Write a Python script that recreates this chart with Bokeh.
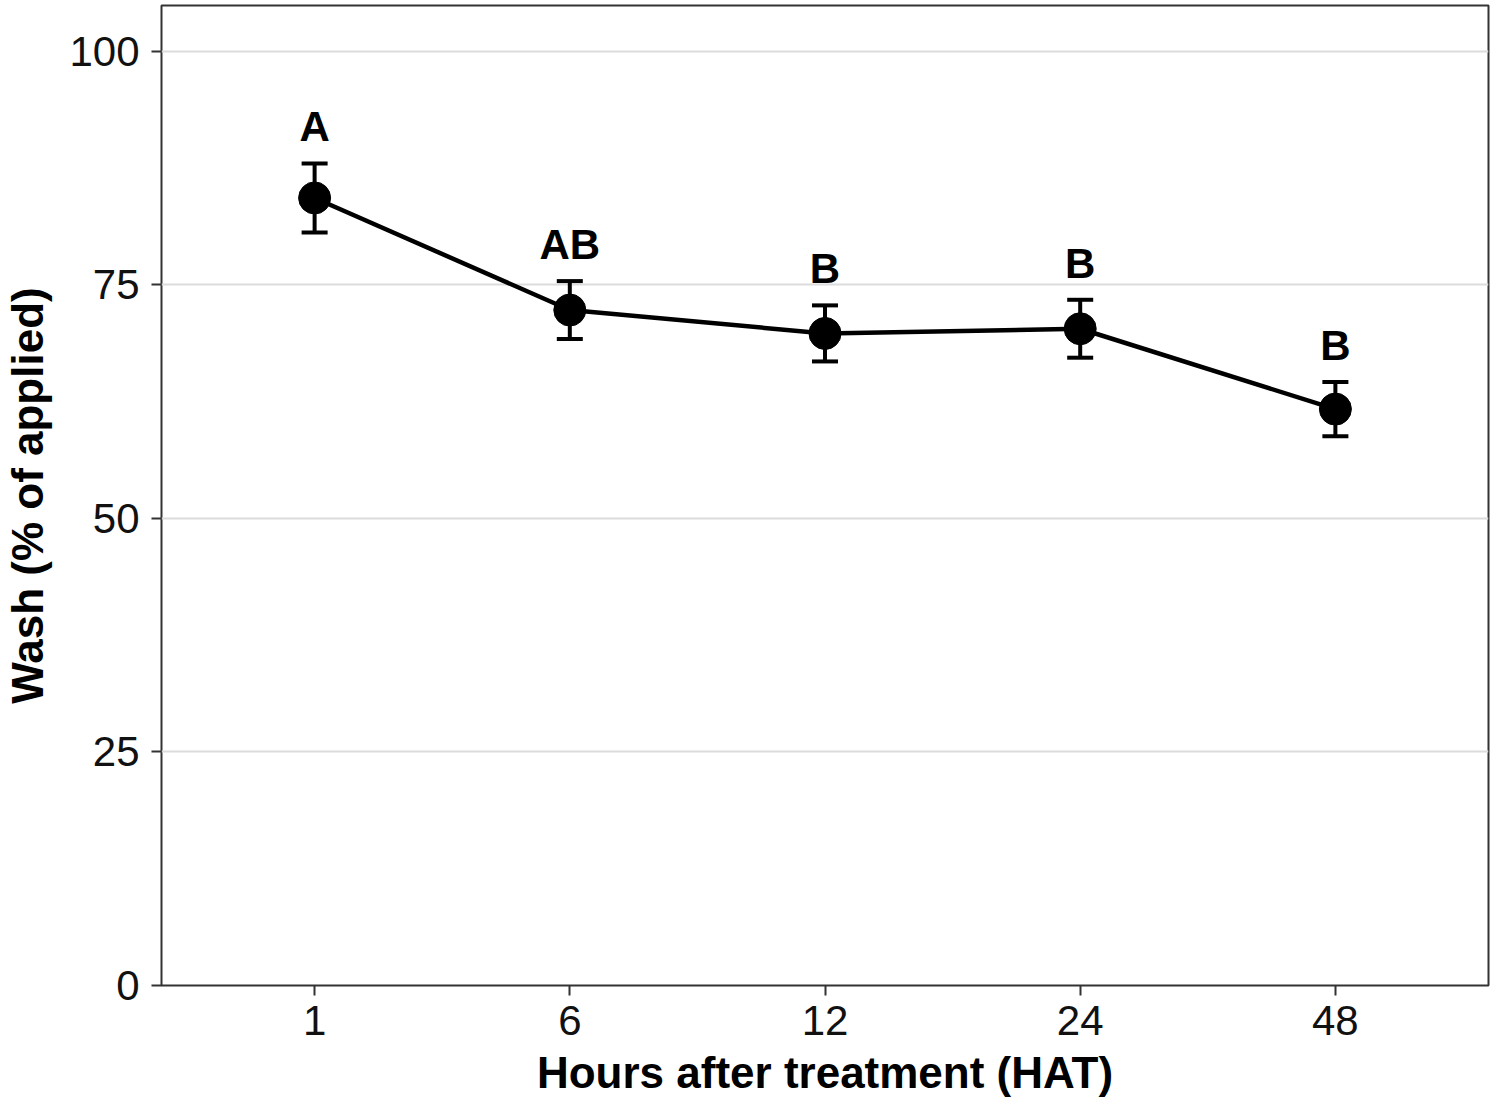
from bokeh.plotting import figure
from bokeh.models import ColumnDataSource, Range1d, FixedTicker, Whisker, LabelSet
from bokeh.core.properties import value
from bokeh.embed import file_html
from bokeh.resources import INLINE

# ---- data ----
hours = ["1", "6", "12", "24", "48"]
wash_mean = [84.3, 72.3, 69.8, 70.3, 61.7]
wash_se = [3.7, 3.1, 3.0, 3.1, 2.9]
letters = ["A", "AB", "B", "B", "B"]
y_ticks = [0, 25, 50, 75, 100]

xpos = list(range(1, len(hours) + 1))
lower = [m - s for m, s in zip(wash_mean, wash_se)]
upper = [m + s for m, s in zip(wash_mean, wash_se)]
label_y = [u + 3.9 for u in upper]

src = ColumnDataSource(dict(x=xpos, y=wash_mean, lower=lower, upper=upper,
                            ly=label_y, lab=letters))

FONT = "Liberation Sans"

p = figure(width=1501, height=1109, output_backend="svg", toolbar_location=None,
           x_range=Range1d(0.4, 5.6), y_range=Range1d(0, 104.9),
           min_border_left=160, min_border_right=13, min_border_top=5,
           min_border_bottom=124)

p.background_fill_color = "white"
p.border_fill_color = "white"
p.outline_line_color = "#333333"
p.outline_line_width = 2

# grid
p.xgrid.grid_line_color = None
p.ygrid.grid_line_color = "#dcdcdc"
p.ygrid.grid_line_width = 2
p.yaxis.ticker = FixedTicker(ticks=y_ticks)
p.xaxis.ticker = FixedTicker(ticks=xpos)
p.xaxis.major_label_overrides = {i: h for i, h in zip(xpos, hours)}

for ax in (p.xaxis[0], p.yaxis[0]):
    ax.axis_line_color = None
    ax.major_tick_in = 0
    ax.major_tick_out = 10
    ax.major_tick_line_width = 2
    ax.major_tick_line_color = "#333333"
    ax.minor_tick_line_color = None
    ax.major_label_text_font = FONT
    ax.major_label_text_font_size = "42px"
    ax.major_label_text_color = "#111111"
    ax.axis_label_text_font = FONT
    ax.axis_label_text_font_size = "44px"
    ax.axis_label_text_font_style = "bold"
    ax.axis_label_text_color = "black"

p.xaxis.axis_label = "Hours after treatment (HAT)"
p.yaxis.axis_label = "Wash (% of applied)"
p.yaxis.major_label_standoff = 12
p.yaxis.axis_label_standoff = 14
p.xaxis.major_label_standoff = 10
p.xaxis.axis_label_standoff = 10

# line
p.line("x", "y", source=src, line_color="black", line_width=4.5)

# error bars
w = Whisker(source=src, base="x", lower="lower", upper="upper", dimension="height",
            line_color="black", line_width=4)
w.upper_head.size = 26
w.lower_head.size = 26
w.upper_head.line_width = 4
w.lower_head.line_width = 4
w.upper_head.line_color = "black"
w.lower_head.line_color = "black"
p.add_layout(w)

# points
p.scatter("x", "y", source=src, size=32, fill_color="black", line_color="black")

# letters
labels = LabelSet(x="x", y="ly", text="lab", source=src, text_align="center",
                  text_baseline="middle", text_font=value(FONT),
                  text_font_size="42px", text_font_style="bold",
                  text_color="black")
p.add_layout(labels)

open("out.html", "w").write(file_html(p, INLINE))
